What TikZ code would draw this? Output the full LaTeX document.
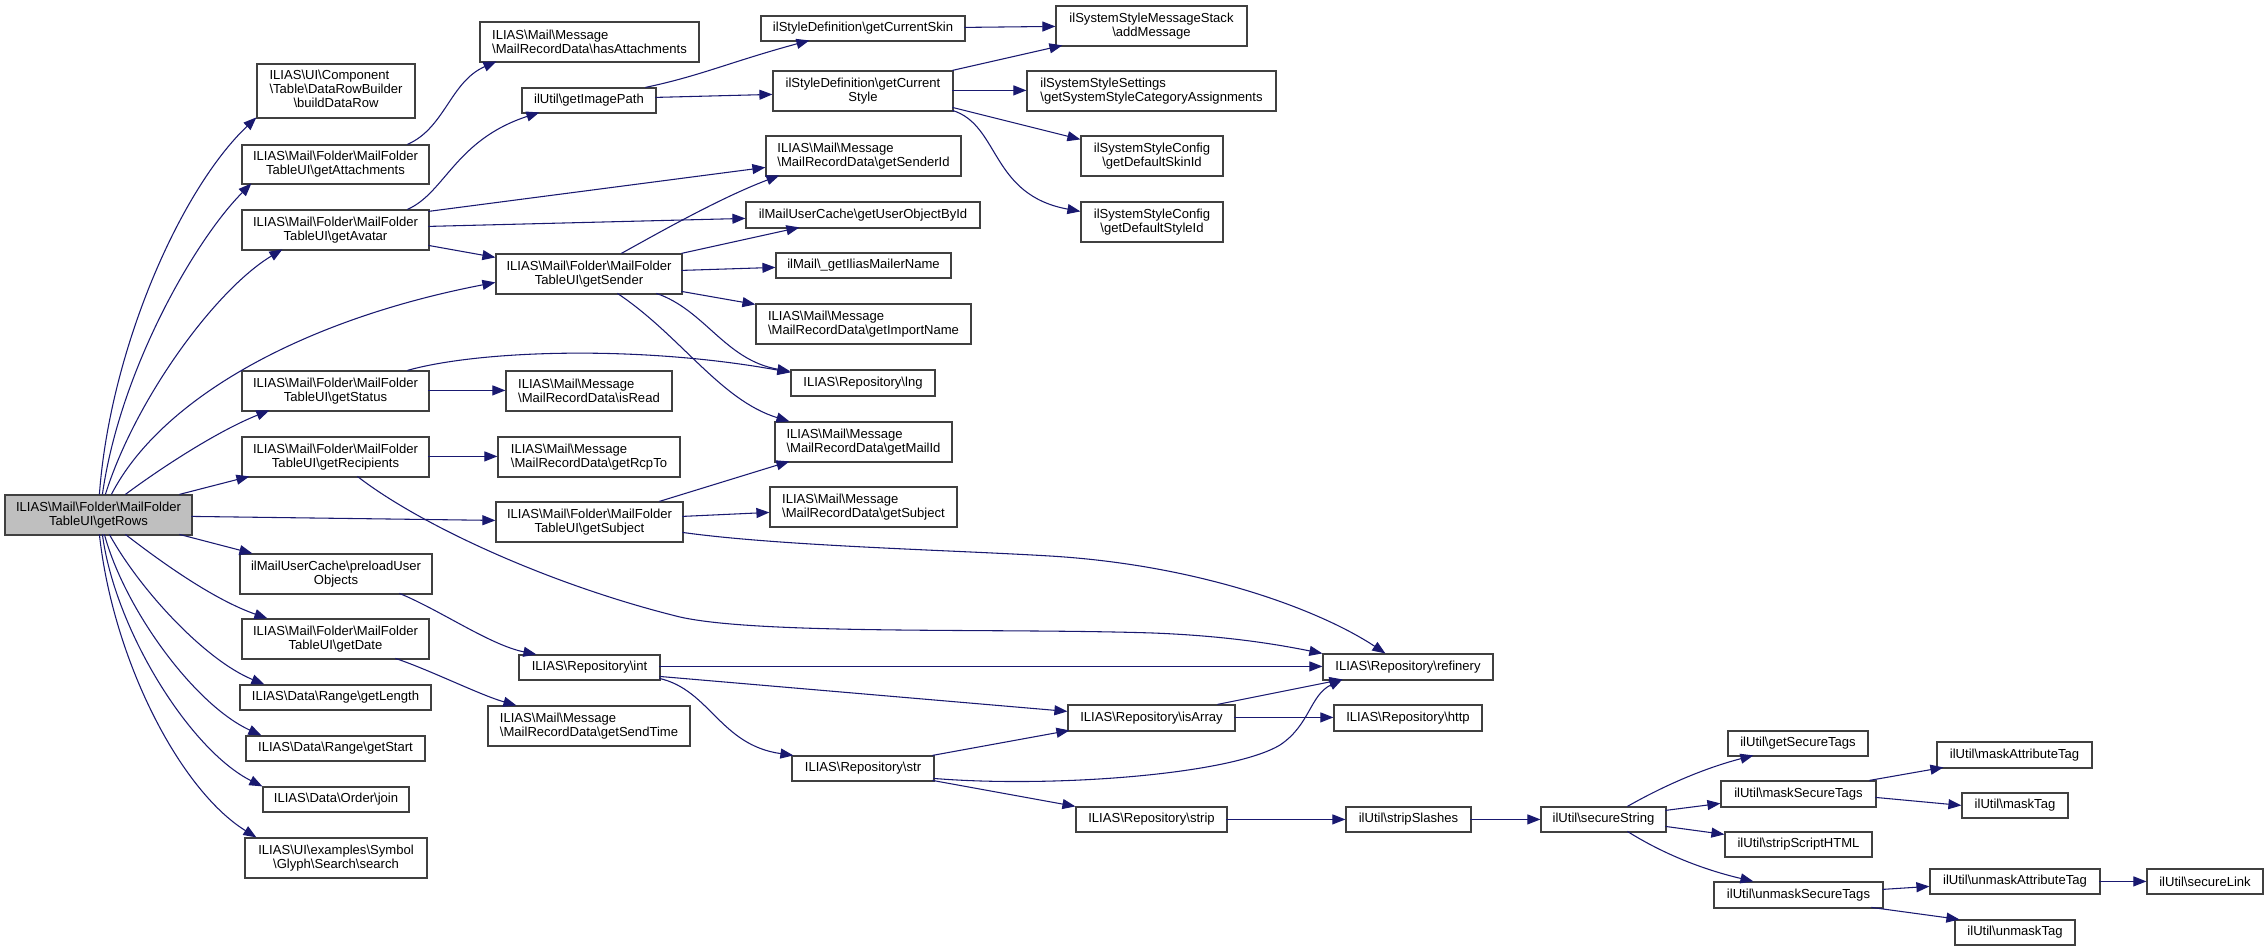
\documentclass[tikz,border=0pt]{standalone}
\usepackage{fontspec}
\setmainfont{Liberation Sans}
\usetikzlibrary{arrows.meta}
\definecolor{edgec}{HTML}{191970}
\definecolor{boxc}{HTML}{404040}
\definecolor{mainfill}{HTML}{BFBFBF}
\newcommand{\bs}{\textbackslash}
\newcommand{\bx}[7][]{\node[box,#1,minimum width={(#5-#3)*0.75pt},minimum height={(#6-#4)*0.75pt}] (#2) at ({(#3+#5)/2},{(#4+#6)/2}) {#7};}
\begin{document}
\begin{tikzpicture}[x=0.75pt,y=-0.75pt,
  box/.style={draw=boxc,line width=0.9pt,fill=white,inner sep=0pt,align=center,font=\fontsize{9.8pt}{10.5pt}\selectfont},
  lnk/.style={draw=edgec,line width=0.8pt,-{Triangle[length=9.75pt,width=7.5pt]}},
  pp/.style 2 args={xshift=#1*0.75pt,yshift=-#2*0.75pt}]
\fill[white] (0,0) rectangle (2268,951);
\useasboundingbox (0,0) rectangle (2268,951);
% nodes
\bx[fill=mainfill]{getRows}{5}{495}{192}{535}{ILIAS\bs Mail\bs Folder\bs MailFolder\\TableUI\bs getRows}
\bx{buildDataRow}{257}{64}{415}{118}{\begin{tabular}{@{}l@{}}ILIAS\bs UI\bs Component\\ \bs Table\bs DataRowBuilder\\ \multicolumn{1}{@{}c@{}}{\bs buildDataRow}\end{tabular}}
\bx{getAttachments}{242}{145}{429}{184}{ILIAS\bs Mail\bs Folder\bs MailFolder\\TableUI\bs getAttachments}
\bx{getAvatar}{242}{210}{429}{250}{ILIAS\bs Mail\bs Folder\bs MailFolder\\TableUI\bs getAvatar}
\bx{getSender}{496}{254}{682}{294}{ILIAS\bs Mail\bs Folder\bs MailFolder\\TableUI\bs getSender}
\bx{getStatus}{242}{371}{429}{411}{ILIAS\bs Mail\bs Folder\bs MailFolder\\TableUI\bs getStatus}
\bx{getRecipients}{242}{437}{429}{477}{ILIAS\bs Mail\bs Folder\bs MailFolder\\TableUI\bs getRecipients}
\bx{getSubjectUI}{496}{502}{683}{542}{ILIAS\bs Mail\bs Folder\bs MailFolder\\TableUI\bs getSubject}
\bx{preload}{240}{554}{432}{594}{ilMailUserCache\bs preloadUser\\Objects}
\bx{getDate}{242}{619}{429}{659}{ILIAS\bs Mail\bs Folder\bs MailFolder\\TableUI\bs getDate}
\bx{getLength}{240}{685}{431}{710}{ILIAS\bs Data\bs Range\bs getLength}
\bx{getStart}{246}{736}{425}{761}{ILIAS\bs Data\bs Range\bs getStart}
\bx{join}{263}{787}{409}{812}{ILIAS\bs Data\bs Order\bs join}
\bx{search}{245}{838}{427}{878}{ILIAS\bs UI\bs examples\bs Symbol\\ \bs Glyph\bs Search\bs search}
\bx[align=left]{hasAttachments}{480}{22}{699}{62}{ILIAS\bs Mail\bs Message\\ \bs MailRecordData\bs hasAttachments}
\bx{getImagePath}{522}{88}{656}{113}{ilUtil\bs getImagePath}
\bx{getCurrentSkin}{761}{16}{965}{41}{ilStyleDefinition\bs getCurrentSkin}
\bx{getCurrentStyle}{773}{71}{953}{111}{ilStyleDefinition\bs getCurrent\\Style}
\bx{addMessage}{1056}{6}{1247}{46}{ilSystemStyleMessageStack\\ \bs addMessage}
\bx[align=left]{sysCat}{1027}{71}{1276}{111}{ilSystemStyleSettings\\ \bs getSystemStyleCategoryAssignments}
\bx{defSkin}{1081}{136}{1223}{176}{ilSystemStyleConfig\\ \bs getDefaultSkinId}
\bx{defStyle}{1081}{202}{1223}{242}{ilSystemStyleConfig\\ \bs getDefaultStyleId}
\bx[align=left]{senderId}{766}{136}{961}{176}{ILIAS\bs Mail\bs Message\\ \bs MailRecordData\bs getSenderId}
\bx{userObj}{746}{202}{980}{228}{ilMailUserCache\bs getUserObjectById}
\bx{mailerName}{776}{253}{951}{278}{ilMail\bs\_getIliasMailerName}
\bx[align=left]{importName}{756}{304}{971}{344}{ILIAS\bs Mail\bs Message\\ \bs MailRecordData\bs getImportName}
\bx{lng}{791}{370}{935}{396}{ILIAS\bs Repository\bs lng}
\bx[align=left]{isRead}{506}{371}{672}{411}{ILIAS\bs Mail\bs Message\\ \bs MailRecordData\bs isRead}
\bx[align=left]{rcpTo}{498}{437}{680}{477}{ILIAS\bs Mail\bs Message\\ \bs MailRecordData\bs getRcpTo}
\bx[align=left]{mailId}{775}{422}{952}{462}{ILIAS\bs Mail\bs Message\\ \bs MailRecordData\bs getMailId}
\bx[align=left]{subjectRD}{770}{487}{957}{527}{ILIAS\bs Mail\bs Message\\ \bs MailRecordData\bs getSubject}
\bx{int}{519}{655}{660}{680}{ILIAS\bs Repository\bs int}
\bx[align=left]{sendTime}{488}{706}{690}{746}{ILIAS\bs Mail\bs Message\\ \bs MailRecordData\bs getSendTime}
\bx{str}{792}{756}{934}{781}{ILIAS\bs Repository\bs str}
\bx{refinery}{1323}{654}{1493}{680}{ILIAS\bs Repository\bs refinery}
\bx{isArray}{1068}{705}{1235}{731}{ILIAS\bs Repository\bs isArray}
\bx{http}{1334}{705}{1482}{731}{ILIAS\bs Repository\bs http}
\bx{strip}{1076}{807}{1227}{832}{ILIAS\bs Repository\bs strip}
\bx{stripSlashes}{1346}{807}{1471}{832}{ilUtil\bs stripSlashes}
\bx{secureString}{1541}{807}{1666}{832}{ilUtil\bs secureString}
\bx{getSecureTags}{1728}{731}{1868}{756}{ilUtil\bs getSecureTags}
\bx{maskSecureTags}{1721}{781}{1876}{807}{ilUtil\bs maskSecureTags}
\bx{stripScriptHTML}{1725}{832}{1872}{857}{ilUtil\bs stripScriptHTML}
\bx{unmaskSecureTags}{1714}{882}{1883}{908}{ilUtil\bs unmaskSecureTags}
\bx{maskAttrTag}{1937}{742}{2092}{768}{ilUtil\bs maskAttributeTag}
\bx{maskTag}{1962}{793}{2068}{818}{ilUtil\bs maskTag}
\bx{unmaskAttrTag}{1930}{869}{2100}{894}{ilUtil\bs unmaskAttributeTag}
\bx{secureLink}{2147}{869}{2263}{894}{ilUtil\bs secureLink}
\bx{unmaskTag}{1955}{920}{2075}{945}{ilUtil\bs unmaskTag}
% edges from getRows
\path[lnk] ([pp={95}{0}]getRows.north west) .. controls (110,350) and (180,190) .. ([pp={0}{54}]buildDataRow.north west);
\path[lnk] ([pp={98}{0}]getRows.north west) .. controls (120,370) and (195,240) .. ([pp={10}{39}]getAttachments.north west);
\path[lnk] ([pp={101}{0}]getRows.north west) .. controls (135,400) and (215,290) .. ([pp={41}{40}]getAvatar.north west);
\path[lnk] ([pp={107}{0}]getRows.north west) .. controls (160,400) and (300,320) .. ([pp={0}{29}]getSender.north west);
\path[lnk] ([pp={121}{0}]getRows.north west) .. controls (165,465) and (220,430) .. ([pp={28}{40}]getStatus.north west);
\path[lnk] ([pp={175}{0}]getRows.north west) -- ([pp={8}{40}]getRecipients.north west);
\path[lnk] ([pp={187}{22}]getRows.north west) -- ([pp={0}{19}]getSubjectUI.north west);
\path[lnk] ([pp={175}{40}]getRows.north west) -- ([pp={13}{0}]preload.north west);
\path[lnk] ([pp={121}{40}]getRows.north west) .. controls (165,565) and (215,600) .. ([pp={26}{0}]getDate.north west);
\path[lnk] ([pp={105}{40}]getRows.north west) .. controls (140,590) and (205,660) .. ([pp={25}{0}]getLength.north west);
\path[lnk] ([pp={100}{40}]getRows.north west) .. controls (125,610) and (195,705) .. ([pp={16}{0}]getStart.north west);
\path[lnk] ([pp={98}{40}]getRows.north west) .. controls (115,630) and (190,750) .. (join.north west);
\path[lnk] ([pp={95}{40}]getRows.north west) .. controls (113,660) and (180,790) .. ([pp={12}{0}]search.north west);
% second level
\path[lnk] ([pp={166}{0}]getAttachments.north west) .. controls (445,128) and (450,82) .. ([pp={17}{40}]hasAttachments.north west);
\path[lnk] ([pp={166}{0}]getAvatar.north west) .. controls (445,193) and (455,140) .. ([pp={18}{25}]getImagePath.north west);
\path[lnk] ([pp={187}{2}]getAvatar.north west) -- ([pp={0}{32}]senderId.north west);
\path[lnk] ([pp={187}{17}]getAvatar.north west) -- ([pp={0}{17}]userObj.north west);
\path[lnk] ([pp={187}{36}]getAvatar.north west) -- ([pp={0}{4}]getSender.north west);
\path[lnk] ([pp={124}{0}]getImagePath.north west) .. controls (700,76) and (730,62) .. ([pp={49}{25}]getCurrentSkin.north west);
\path[lnk] ([pp={134}{10}]getImagePath.north west) -- ([pp={0}{24}]getCurrentStyle.north west);
\path[lnk] ([pp={204}{12}]getCurrentSkin.north west) -- ([pp={0}{21}]addMessage.north west);
\path[lnk] ([pp={180}{0}]getCurrentStyle.north west) -- ([pp={7}{40}]addMessage.north west);
\path[lnk] ([pp={180}{20}]getCurrentStyle.north west) -- ([pp={0}{20}]sysCat.north west);
\path[lnk] ([pp={180}{37}]getCurrentStyle.north west) -- ([pp={0}{4}]defSkin.north west);
\path[lnk] ([pp={180}{40}]getCurrentStyle.north west) .. controls (1000,125) and (990,195) .. ([pp={0}{10}]defStyle.north west);
% getSender
\path[lnk] ([pp={126}{0}]getSender.north west) .. controls (660,232) and (720,198) .. ([pp={14}{40}]senderId.north west);
\path[lnk] ([pp={186}{0}]getSender.north west) -- ([pp={54}{26}]userObj.north west);
\path[lnk] ([pp={186}{17}]getSender.north west) -- ([pp={0}{15}]mailerName.north west);
\path[lnk] ([pp={186}{38}]getSender.north west) -- ([pp={0}{1}]importName.north west);
\path[lnk] ([pp={161}{40}]getSender.north west) .. controls (705,310) and (725,360) .. ([pp={0}{2}]lng.north west);
\path[lnk] ([pp={122}{40}]getSender.north west) .. controls (680,335) and (720,400) .. ([pp={15}{0}]mailId.north west);
% getStatus, getRecipients, getSubject
\path[lnk] ([pp={166}{0}]getStatus.north west) .. controls (480,350) and (640,345) .. ([pp={0}{3}]lng.north west);
\path[lnk] ([pp={187}{20}]getStatus.north west) -- ([pp={0}{20}]isRead.north west);
\path[lnk] ([pp={187}{20}]getRecipients.north west) -- ([pp={0}{20}]rcpTo.north west);
\path[lnk] ([pp={116}{40}]getRecipients.north west) .. controls (420,525) and (550,585) .. (680,617) .. controls (760,635) and (1000,628) .. (1153,633) .. controls (1230,636) and (1280,645) .. (refinery.north west);
\path[lnk] ([pp={164}{0}]getSubjectUI.north west) -- ([pp={15}{40}]mailId.north west);
\path[lnk] ([pp={187}{15}]getSubjectUI.north west) -- ([pp={0}{26}]subjectRD.north west);
\path[lnk] ([pp={187}{31}]getSubjectUI.north west) .. controls (780,546) and (950,550) .. (1050,556) .. controls (1200,565) and (1320,610) .. ([pp={63}{0}]refinery.north west);
\path[lnk] ([pp={160}{40}]preload.north west) .. controls (440,610) and (490,645) .. ([pp={18}{0}]int.north west);
\path[lnk] ([pp={154}{40}]getDate.north west) .. controls (430,670) and (480,695) .. ([pp={29}{0}]sendTime.north west);
% int, isArray, str
\path[lnk] ([pp={141}{12}]int.north west) -- ([pp={0}{13}]refinery.north west);
\path[lnk] ([pp={141}{22}]int.north west) -- ([pp={0}{7}]isArray.north west);
\path[lnk] ([pp={141}{24}]int.north west) .. controls (710,690) and (720,745) .. ([pp={2}{0}]str.north west);
\path[lnk] ([pp={150}{0}]isArray.north west) -- ([pp={20}{26}]refinery.north west);
\path[lnk] ([pp={167}{13}]isArray.north west) -- ([pp={0}{13}]http.north west);
\path[lnk] ([pp={141}{0}]str.north west) -- ([pp={2}{26}]isArray.north west);
\path[lnk] ([pp={142}{23}]str.north west) .. controls (1050,788) and (1230,775) .. (1280,745) .. controls (1310,725) and (1310,695) .. ([pp={20}{26}]refinery.north west);
\path[lnk] ([pp={141}{25}]str.north west) -- (strip.north west);
\path[lnk] ([pp={151}{13}]strip.north west) -- ([pp={0}{13}]stripSlashes.north west);
\path[lnk] ([pp={125}{13}]stripSlashes.north west) -- ([pp={0}{13}]secureString.north west);
% secureString
\path[lnk] ([pp={87}{0}]secureString.north west) .. controls (1665,785) and (1705,768) .. ([pp={26}{25}]getSecureTags.north west);
\path[lnk] ([pp={125}{4}]secureString.north west) -- ([pp={0}{23}]maskSecureTags.north west);
\path[lnk] ([pp={125}{20}]secureString.north west) -- ([pp={0}{3}]stripScriptHTML.north west);
\path[lnk] ([pp={87}{25}]secureString.north west) .. controls (1665,855) and (1705,870) .. ([pp={40}{0}]unmaskSecureTags.north west);
\path[lnk] ([pp={149}{0}]maskSecureTags.north west) -- ([pp={7}{26}]maskAttrTag.north west);
\path[lnk] ([pp={155}{17}]maskSecureTags.north west) -- ([pp={0}{13}]maskTag.north west);
\path[lnk] ([pp={169}{8}]unmaskSecureTags.north west) -- ([pp={0}{18}]unmaskAttrTag.north west);
\path[lnk] ([pp={158}{26}]unmaskSecureTags.north west) -- ([pp={5}{0}]unmaskTag.north west);
\path[lnk] ([pp={170}{13}]unmaskAttrTag.north west) -- ([pp={0}{13}]secureLink.north west);
\end{tikzpicture}
\end{document}
